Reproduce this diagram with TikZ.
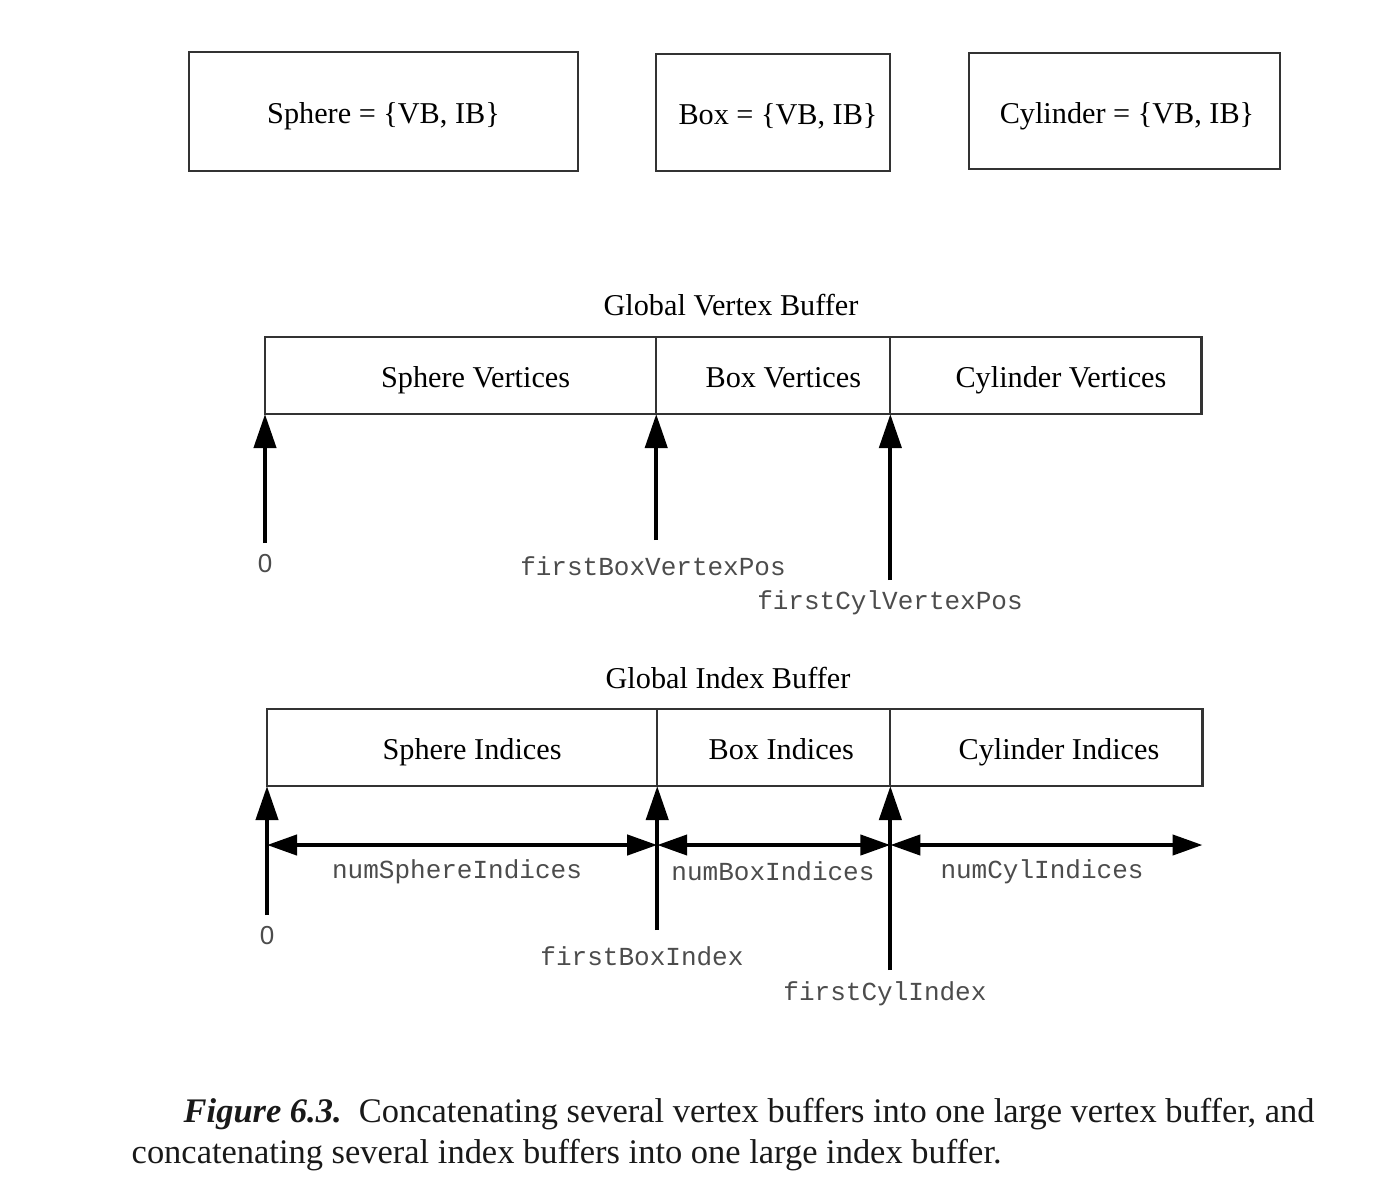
\documentclass[tikz,border=0pt]{standalone}
\usepackage{fontspec}
\setmainfont{Liberation Serif}
\setsansfont{Liberation Sans}
\setmonofont{Liberation Mono}
\usetikzlibrary{arrows.meta,positioning}

\newcommand{\lblfont}{\fontsize{8.6}{10}\selectfont}
\newcommand{\codefont}{\fontsize{7.4}{9}\selectfont\ttfamily}

\tikzset{
	mesh/.style={draw=black!80, line width=0.6pt, inner sep=0pt, outer sep=0pt, font=\lblfont, text height=1.7ex, text depth=0.2ex},
	cell/.style={mesh, minimum height=0.77cm},
	code/.style={inner sep=0pt, text=black!70, font=\codefont},
	zero/.style={inner sep=0pt, text=black!70, font=\fontsize{7.4}{9}\selectfont\sffamily},
	ptr/.style={line width=1.2pt, -{Triangle[length=3.4mm,width=2.2mm]}},
	span/.style={line width=1.2pt, {Triangle[length=3mm,width=2mm]}-{Triangle[length=3mm,width=2mm]}}
}

\begin{document}
\begin{tikzpicture}[x=0.01cm, y=-0.01cm]
	\useasboundingbox (0,0) rectangle (1390,1178);

	%separate meshes
	\node[mesh, minimum width=3.89cm, minimum height=1.19cm] (sphere) at (383.5,111.5) {Sphere = \{VB, IB\}};
	\node[mesh, minimum width=2.34cm, minimum height=1.17cm] (box) at (773,112.5) {\hspace*{0.1cm}Box = \{VB, IB\}};
	\node[mesh, minimum width=3.11cm, minimum height=1.16cm] (cyl) at (1124.5,111) {\hspace*{0.05cm}Cylinder = \{VB, IB\}};

	%global vertex buffer
	\node[font=\lblfont, inner sep=0pt] (vtitle) at (731,305) {Global Vertex Buffer};
	\node[cell, minimum width=3.91cm, anchor=north west] (vsph) at (265,337) {\hspace*{0.3cm}Sphere Vertices};
	\node[cell, minimum width=2.34cm, anchor=west] (vbox) at (vsph.east) {\hspace*{0.2cm}Box Vertices};
	\node[cell, minimum width=3.11cm, anchor=west] (vcyl) at (vbox.east) {\hspace*{0.3cm}Cylinder Vertices};

	%vertex offsets
	\coordinate (vt0) at (0,543);
	\coordinate (vt1) at (0,540);
	\coordinate (vt2) at (0,580);
	\draw[ptr] (vsph.south west |- vt0) -- (vsph.south west);
	\draw[ptr] (vsph.south east |- vt1) -- (vsph.south east);
	\draw[ptr] (vbox.south east |- vt2) -- (vbox.south east);
	\node[zero] (v0) at (265,564) {0};
	\node[code] (vfirstbox) at (653,566) {firstBoxVertexPos};
	\node[code] (vfirstcyl) at (890,603) {firstCylVertexPos};

	%global index buffer
	\node[font=\lblfont, inner sep=0pt] (ititle) at (728,678) {Global Index Buffer};
	\node[cell, minimum width=3.90cm, anchor=north west] (isph) at (267,709) {\hspace*{0.2cm}Sphere Indices};
	\node[cell, minimum width=2.33cm, anchor=west] (ibox) at (isph.east) {\hspace*{0.15cm}Box Indices};
	\node[cell, minimum width=3.12cm, anchor=west] (icyl) at (ibox.east) {\hspace*{0.25cm}Cylinder Indices};

	%index offsets
	\coordinate (it0) at (0,915);
	\coordinate (it1) at (0,930);
	\coordinate (it2) at (0,970);
	\draw[ptr] (isph.south west |- it0) -- (isph.south west);
	\draw[ptr] (isph.south east |- it1) -- (isph.south east);
	\draw[ptr] (ibox.south east |- it2) -- (ibox.south east);
	\node[zero] (i0) at (267,936) {0};
	\node[code] (ifirstbox) at (642,956) {firstBoxIndex};
	\node[code] (ifirstcyl) at (885,994) {firstCylIndex};

	%index counts
	\coordinate (dim) at (0,845);
	\draw[span] (isph.south west |- dim) -- (isph.south east |- dim);
	\draw[span] (ibox.south west |- dim) -- (ibox.south east |- dim);
	\draw[span] (icyl.south west |- dim) -- (icyl.south east |- dim);
	\node[code] (nsph) at (457,872) {numSphereIndices};
	\node[code] (nbox) at (773,871) {numBoxIndices};
	\node[code] (ncyl) at (1042,872) {numCylIndices};

	%caption
	\node[anchor=west, inner sep=0pt, font=\fontsize{9.8}{12}\selectfont, text=black!90] (cap1) at (183,1114) {\textbf{\textit{Figure 6.3.}}\enspace Concatenating several vertex buffers into one large vertex buffer, and};
	\node[anchor=west, inner sep=0pt, font=\fontsize{9.8}{12}\selectfont, text=black!90] (cap2) at (131,1155) {concatenating several index buffers into one large index buffer.};
\end{tikzpicture}
\end{document}
